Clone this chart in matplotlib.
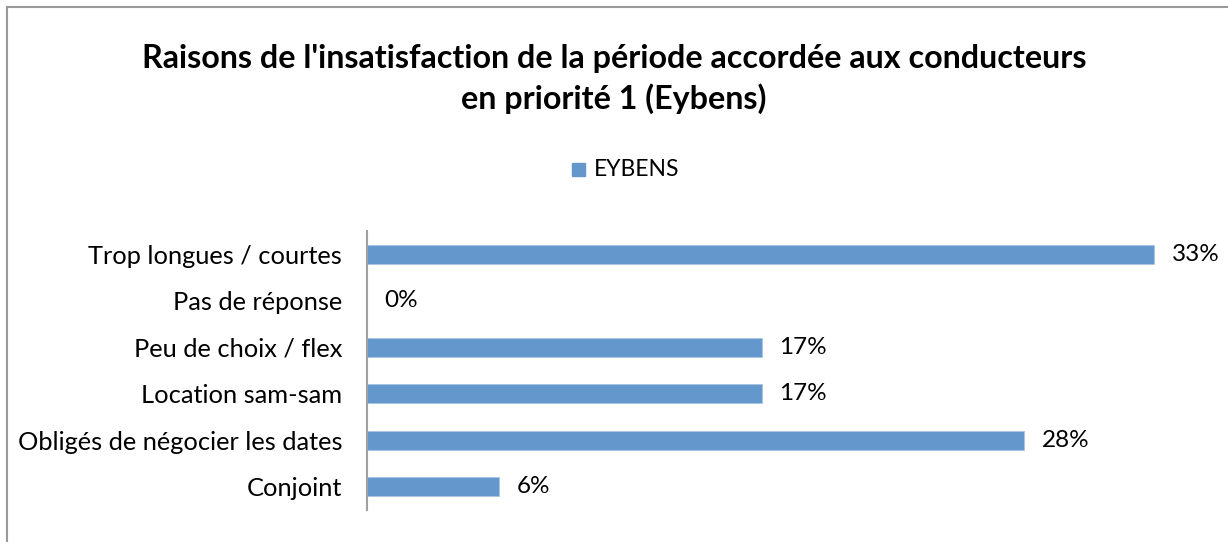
import matplotlib.pyplot as plt
from matplotlib.lines import Line2D
from matplotlib.patches import Rectangle

categories = ["Trop longues / courtes", "Pas de réponse", "Peu de choix / flex",
              "Location sam-sam", "Obligés de négocier les dates", "Conjoint"]
values = [33.3, 0.0, 16.7, 16.7, 27.8, 5.6]
series_name = "EYBENS"
title = "Raisons de l'insatisfaction de la période accordée aux conducteurs\nen priorité 1 (Eybens)"

bar_color = "#6497CB"
plt.rcParams['font.family'] = ['Lato', 'DejaVu Sans']

W, H = 1228, 542
fig = plt.figure(figsize=(W / 100, H / 100), dpi=100)

# chart border (only top and left edges visible in the crop)
fig.add_artist(Line2D([7 / W, 7 / W], [0, 1 - 7 / H], color="#999999", lw=1.5))
fig.add_artist(Line2D([7 / W, 1], [1 - 7 / H, 1 - 7 / H], color="#999999", lw=1.5))

ax = fig.add_axes([367 / W, 32 / H, 827 / W, 279 / H])
ypos = list(range(len(categories)))
ax.barh(ypos, values, height=0.4, color=bar_color, edgecolor="#A9C4E4", linewidth=0.6)
ax.set_xlim(0, 35)
ax.set_ylim(len(categories) - 0.5, -0.5)
ax.set_yticks(ypos)
ax.set_yticklabels(categories, fontsize=18.3)
ax.tick_params(axis="y", length=0, pad=18)
ax.set_xticks([])
for s in ["top", "right", "bottom"]:
    ax.spines[s].set_visible(False)
ax.spines["left"].set_color("#A0A0A0")
ax.spines["left"].set_linewidth(1.5)

for y, v in zip(ypos, values):
    ax.text(v + 0.75, y, f"{v:.0f}%", va="center", ha="left", fontsize=17.5)

fig.text(0.5, 1 - 79 / H, title, ha="center", va="center", fontsize=23.2,
         fontweight="bold", linespacing=1.4)

# legend
fig.add_artist(Rectangle((572 / W, 1 - 176 / H), 13 / W, 13 / H, color=bar_color,
                         transform=fig.transFigure))
fig.text(594 / W, 1 - 170 / H, series_name, ha="left", va="center", fontsize=16.5)

fig.savefig("out.png", dpi=100)
